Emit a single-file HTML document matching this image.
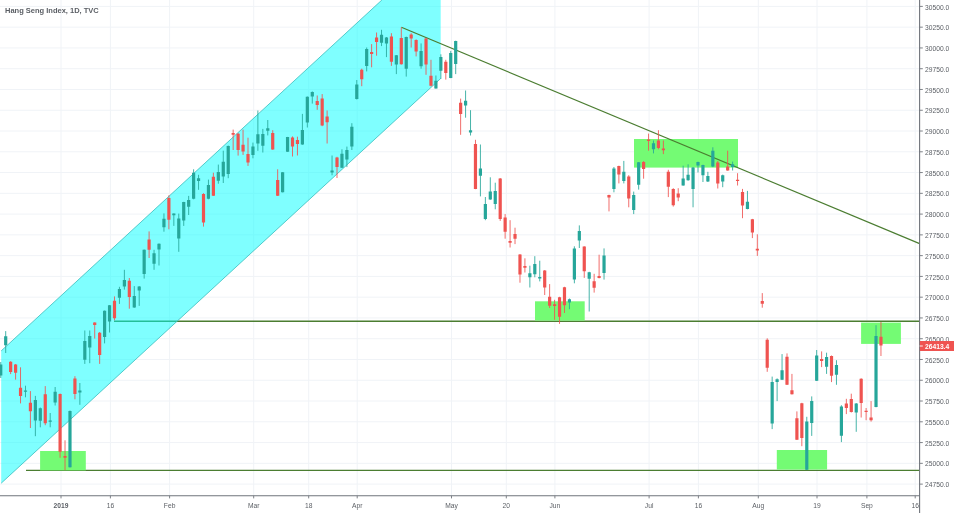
<!DOCTYPE html>
<html><head><meta charset="utf-8"><title>Hang Seng Index</title>
<style>html,body{margin:0;padding:0;background:#fff;overflow:hidden}body{width:954px;height:513px;font-family:"Liberation Sans",sans-serif}</style></head>
<body>
<svg width="954" height="513" viewBox="0 0 954 513" style="display:block;will-change:transform;font-family:'Liberation Sans',sans-serif">
<rect width="954" height="513" fill="#fff"/>
<path d="M61.0 0V495.8M110.4 0V495.8M169.6 0V495.8M253.7 0V495.8M308.7 0V495.8M357.2 0V495.8M451.5 0V495.8M506.3 0V495.8M554.9 0V495.8M649.1 0V495.8M698.4 0V495.8M758.3 0V495.8M817.0 0V495.8M866.9 0V495.8M915.2 0V495.8M0 6.40H919.6M0 27.17H919.6M0 47.94H919.6M0 68.71H919.6M0 89.48H919.6M0 110.25H919.6M0 131.02H919.6M0 151.79H919.6M0 172.56H919.6M0 193.33H919.6M0 214.10H919.6M0 234.87H919.6M0 255.64H919.6M0 276.41H919.6M0 297.18H919.6M0 317.95H919.6M0 338.72H919.6M0 359.49H919.6M0 380.26H919.6M0 401.03H919.6M0 421.80H919.6M0 442.57H919.6M0 463.34H919.6M0 484.11H919.6" stroke="#f0f3f7" stroke-width="1" fill="none"/>
<clipPath id="c"><rect x="0" y="0" width="919.6" height="495.8"/></clipPath>
<g clip-path="url(#c)">
<path d="M114 321.2H919.6M26 470.4H919.6" stroke="#4b7d31" stroke-width="1.4" fill="none"/>
<rect x="40.1" y="451" width="45.7" height="19.4" fill="#74fb74"/>
<rect x="535" y="301.3" width="49.7" height="19.3" fill="#74fb74"/>
<rect x="634" y="139" width="104.0" height="28.6" fill="#74fb74"/>
<rect x="776.8" y="450" width="50.3" height="19.6" fill="#74fb74"/>
<rect x="861.1" y="322.6" width="39.8" height="21.3" fill="#74fb74"/>
<path d="M1.2 350.9L381.9 0H440.7V78.5L1.2 483.2Z" fill="rgba(0,255,255,0.5)"/>
<path d="M1.2 350.9L381.9 0M440.7 78.5L1.2 483.2" stroke="#45c4c4" stroke-width="0.9" fill="none"/>
<path d="M401.4 27.3L919.6 243.6" stroke="#4b7d31" stroke-width="1.15" fill="none"/>
<path d="M10.64 361.2V374.1M15.59 364.0V379.6M20.53 367.3V403.4M30.42 391.1V428.0M45.26 386.1V425.2M60.09 393.5V457.8M65.03 440.3V470.2M74.93 376.2V399.3M94.71 322.3V338.6M99.65 332.0V363.9M114.49 296.4V320.3M129.32 278.0V308.7M149.10 231.4V258.0M168.88 195.3V229.3M203.50 193.2V226.6M213.39 172.7V195.9M233.17 129.6V150.0M238.11 133.0V155.6M243.06 129.6V154.9M248.00 137.7V165.9M272.73 130.2V149.8M277.67 169.3V196.0M292.50 136.4V156.5M297.45 136.7V155.5M317.23 95.5V109.8M322.18 94.1V126.2M327.12 110.5V143.5M337.01 156.8V178.0M361.74 68.7V86.2M371.62 44.1V67.3M376.57 32.5V55.7M391.41 33.2V65.9M401.30 27.3V64.6M411.19 33.2V47.5M416.13 39.3V56.4M426.02 38.0V74.8M430.97 59.8V86.4M445.80 59.8V79.6M460.64 98.6V134.8M475.47 139.8V189.2M500.20 178.0V220.9M505.14 214.1V238.7M510.09 220.2V247.5M515.03 227.7V244.1M519.98 254.1V282.7M524.92 258.3V272.5M544.70 270.0V295.0M549.64 284.1V308.0M554.59 299.8V319.8M559.54 296.8V323.9M564.48 286.8V313.0M584.26 246.3V277.9M594.15 273.8V292.6M599.10 254.7V278.4M608.99 194.7V211.4M618.88 165.7V183.4M628.76 175.2V207.3M643.60 161.0V178.7M648.55 133.6V150.7M658.44 130.2V149.3M663.38 140.5V154.1M668.33 169.8V197.1M673.27 188.2V206.6M678.22 188.2V201.2M717.78 161.0V188.5M727.67 150.7V170.7M737.56 173.2V185.5M742.50 188.9V218.2M752.39 218.9V238.1M757.34 234.3V255.9M762.28 293.1V307.7M767.23 338.3V371.8M787.00 353.4V385.0M791.95 373.9V394.5M796.90 411.4V440.0M801.84 402.8V446.2M821.62 351.4V367.1M831.51 355.5V382.1M846.35 398.8V414.1M851.29 393.7V412.5M861.18 378.3V417.5M866.12 408.0V420.2M871.07 401.1V421.6M880.96 322.0V356.0" stroke="#ef5350" stroke-width="0.85" fill="none"/>
<path d="M9.04 361.8h3.2v10.3h-3.2zM13.99 364.6h3.2v8.1h-3.2zM18.93 387.7h3.2v8.2h-3.2zM28.82 402.7h3.2v8.5h-3.2zM43.66 394.3h3.2v28.9h-3.2zM58.49 394.1h3.2v57.6h-3.2zM63.43 456.0h3.2v1.8h-3.2zM73.33 378.5h3.2v15.4h-3.2zM93.11 322.6h3.2v2.4h-3.2zM98.05 332.8h3.2v22.2h-3.2zM112.89 300.7h3.2v17.5h-3.2zM127.72 280.7h3.2v16.4h-3.2zM147.50 239.6h3.2v10.2h-3.2zM167.28 198.0h3.2v21.8h-3.2zM201.90 193.9h3.2v28.6h-3.2zM211.79 176.8h3.2v18.9h-3.2zM231.57 133.0h3.2v1.7h-3.2zM236.51 133.7h3.2v16.4h-3.2zM241.46 144.7h3.2v6.8h-3.2zM246.40 153.9h3.2v8.6h-3.2zM271.12 133.0h3.2v16.5h-3.2zM276.07 180.0h3.2v15.7h-3.2zM290.90 137.5h3.2v9.1h-3.2zM295.85 140.0h3.2v3.9h-3.2zM315.63 100.9h3.2v4.1h-3.2zM320.57 98.5h3.2v27.0h-3.2zM325.52 116.6h3.2v5.7h-3.2zM335.41 157.5h3.2v9.6h-3.2zM360.13 69.8h3.2v9.5h-3.2zM370.02 52.0h3.2v1.9h-3.2zM374.97 37.6h3.2v4.5h-3.2zM389.81 36.6h3.2v25.2h-3.2zM399.69 38.0h3.2v26.3h-3.2zM409.58 34.5h3.2v4.1h-3.2zM414.53 40.0h3.2v11.6h-3.2zM424.42 38.4h3.2v26.2h-3.2zM429.37 75.8h3.2v9.9h-3.2zM444.20 61.8h3.2v11.2h-3.2zM459.04 102.7h3.2v11.2h-3.2zM473.87 143.9h3.2v45.0h-3.2zM498.60 178.4h3.2v40.5h-3.2zM503.54 217.5h3.2v14.3h-3.2zM508.49 241.1h3.2v1.6h-3.2zM513.43 233.9h3.2v4.8h-3.2zM518.38 254.6h3.2v20.0h-3.2zM523.32 266.1h3.2v1.6h-3.2zM543.10 270.5h3.2v17.0h-3.2zM548.04 296.7h3.2v9.0h-3.2zM552.99 304.2h3.2v1.8h-3.2zM557.94 297.2h3.2v19.6h-3.2zM562.88 287.2h3.2v18.0h-3.2zM582.66 246.6h3.2v24.6h-3.2zM592.55 281.3h3.2v6.5h-3.2zM597.50 276.0h3.2v2.0h-3.2zM607.38 195.0h3.2v2.5h-3.2zM617.27 166.1h3.2v8.5h-3.2zM627.16 176.6h3.2v21.8h-3.2zM642.00 162.0h3.2v7.1h-3.2zM646.95 139.4h3.2v1.7h-3.2zM656.84 140.5h3.2v7.5h-3.2zM661.78 148.4h3.2v1.9h-3.2zM666.73 171.7h3.2v15.0h-3.2zM671.67 188.9h3.2v16.4h-3.2zM676.62 193.4h3.2v4.1h-3.2zM716.18 162.6h3.2v20.8h-3.2zM726.07 166.4h3.2v4.1h-3.2zM735.96 179.8h3.2v1.3h-3.2zM740.90 192.0h3.2v13.6h-3.2zM750.79 219.3h3.2v13.2h-3.2zM755.74 248.8h3.2v1.7h-3.2zM760.68 301.1h3.2v2.7h-3.2zM765.62 339.7h3.2v28.0h-3.2zM785.40 356.8h3.2v28.0h-3.2zM790.35 390.3h3.2v4.0h-3.2zM795.30 418.2h3.2v21.5h-3.2zM800.24 403.2h3.2v34.8h-3.2zM820.02 358.9h3.2v2.0h-3.2zM829.91 356.1h3.2v19.6h-3.2zM844.75 403.4h3.2v4.6h-3.2zM849.69 399.1h3.2v13.0h-3.2zM859.58 378.7h3.2v24.2h-3.2zM864.52 410.7h3.2v1.2h-3.2zM869.47 417.5h3.2v2.7h-3.2zM879.36 336.7h3.2v8.8h-3.2z" fill="#ef5350"/>
<path d="M0.75 362.0V378.0M5.70 331.1V353.0M25.48 385.7V397.3M35.37 395.9V436.2M40.31 407.5V427.3M50.20 413.0V427.3M55.15 387.0V405.5M69.98 410.5V467.5M79.87 383.0V404.8M84.81 330.5V363.9M89.76 330.5V363.2M104.59 310.5V343.4M109.54 305.0V332.5M119.43 286.8V303.9M124.38 269.8V289.6M134.27 286.1V307.8M139.21 286.1V305.9M144.16 249.5V278.6M154.05 249.8V269.8M158.99 243.4V265.5M163.94 213.4V231.7M173.83 213.4V225.9M178.77 213.6V251.8M183.72 201.8V225.9M188.66 195.9V215.0M193.61 169.3V199.3M198.55 174.8V189.8M208.44 179.6V199.3M218.33 164.6V183.7M223.28 150.7V183.0M228.22 145.5V178.2M252.95 142.6V158.3M257.89 110.5V150.8M262.84 128.9V152.5M267.78 120.0V135.4M282.62 172.0V192.4M287.56 136.9V151.9M302.40 113.9V144.8M307.34 96.5V127.5M312.29 91.4V103.6M332.06 155.5V175.3M341.96 149.3V168.0M346.90 146.6V167.1M351.85 123.2V150.0M356.79 80.0V99.5M366.68 47.5V71.4M381.52 29.8V46.1M386.46 37.0V57.1M396.35 55.0V74.1M406.24 36.6V76.6M421.08 43.4V68.7M435.91 75.5V88.6M440.86 54.3V78.9M450.75 50.9V78.2M455.69 40.7V74.1M465.58 90.5V117.7M470.53 110.2V135.5M480.42 144.5V196.4M485.36 197.0V220.2M490.31 177.3V199.8M495.25 182.7V209.3M529.87 265.7V287.5M534.81 256.2V277.3M539.75 260.7V281.4M569.43 298.5V309.2M574.37 246.3V283.3M579.32 225.4V248.0M589.21 271.8V311.5M604.04 248.4V279.6M613.93 167.0V192.3M623.82 160.9V183.4M633.71 191.6V214.1M638.66 162.0V189.6M653.49 140.5V153.4M683.16 165.7V185.7M688.11 164.3V180.7M693.05 167.0V207.3M698.00 161.6V172.5M702.94 164.7V182.0M707.88 171.8V182.0M712.83 147.3V167.1M722.72 174.6V187.2M732.61 161.6V170.5M747.45 190.9V209.3M772.17 376.6V429.1M777.12 378.4V401.1M782.06 354.1V380.0M806.79 416.8V470.0M811.73 396.4V435.9M816.68 350.0V381.0M826.57 352.7V373.9M836.46 360.2V384.8M841.40 405.2V442.1M856.24 403.0V431.8M876.02 325.2V407.3" stroke="#26a69a" stroke-width="0.85" fill="none"/>
<path d="M-0.85 364.6h3.2v10.9h-3.2zM4.10 336.2h3.2v9.0h-3.2zM23.88 390.5h3.2v1.3h-3.2zM33.77 400.0h3.2v20.5h-3.2zM38.71 408.2h3.2v12.5h-3.2zM48.60 420.5h3.2v1.3h-3.2zM53.55 391.8h3.2v10.7h-3.2zM68.38 411.0h3.2v56.2h-3.2zM78.27 390.5h3.2v2.0h-3.2zM83.22 341.1h3.2v18.7h-3.2zM88.16 335.9h3.2v11.6h-3.2zM103.00 310.7h3.2v26.3h-3.2zM107.94 305.2h3.2v16.4h-3.2zM117.83 288.9h3.2v8.8h-3.2zM122.78 280.0h3.2v6.6h-3.2zM132.67 296.1h3.2v11.5h-3.2zM137.61 286.6h3.2v4.0h-3.2zM142.56 249.8h3.2v24.1h-3.2zM152.45 253.2h3.2v10.6h-3.2zM157.39 243.7h3.2v5.7h-3.2zM162.34 218.8h3.2v8.5h-3.2zM172.23 213.6h3.2v1.7h-3.2zM177.17 218.4h3.2v20.1h-3.2zM182.12 202.1h3.2v18.4h-3.2zM187.06 200.0h3.2v6.8h-3.2zM192.01 172.7h3.2v26.0h-3.2zM196.95 178.2h3.2v2.7h-3.2zM206.84 185.0h3.2v13.7h-3.2zM216.73 172.1h3.2v8.6h-3.2zM221.68 161.8h3.2v14.8h-3.2zM226.62 146.0h3.2v28.1h-3.2zM251.35 146.6h3.2v8.3h-3.2zM256.29 134.3h3.2v9.2h-3.2zM261.24 133.9h3.2v11.8h-3.2zM266.18 128.2h3.2v2.5h-3.2zM281.01 172.2h3.2v20.0h-3.2zM285.96 137.1h3.2v14.6h-3.2zM300.80 130.0h3.2v14.6h-3.2zM305.74 96.8h3.2v25.6h-3.2zM310.69 92.0h3.2v4.5h-3.2zM330.46 170.5h3.2v2.0h-3.2zM340.36 153.8h3.2v14.0h-3.2zM345.30 150.0h3.2v9.6h-3.2zM350.25 126.8h3.2v19.8h-3.2zM355.19 84.6h3.2v14.4h-3.2zM365.08 48.9h3.2v17.0h-3.2zM379.92 34.8h3.2v7.9h-3.2zM384.86 37.6h3.2v5.8h-3.2zM394.75 55.3h3.2v9.3h-3.2zM404.64 37.0h3.2v31.7h-3.2zM419.48 50.9h3.2v15.3h-3.2zM434.31 80.7h3.2v7.7h-3.2zM439.25 57.1h3.2v13.6h-3.2zM449.14 53.0h3.2v24.9h-3.2zM454.09 41.1h3.2v22.8h-3.2zM463.98 100.7h3.2v4.8h-3.2zM468.93 130.3h3.2v2.2h-3.2zM478.81 168.4h3.2v7.3h-3.2zM483.76 203.9h3.2v15.0h-3.2zM488.70 191.6h3.2v8.0h-3.2zM493.65 190.9h3.2v13.0h-3.2zM528.26 273.2h3.2v4.1h-3.2zM533.21 264.1h3.2v10.2h-3.2zM538.15 277.0h3.2v1.4h-3.2zM567.83 299.2h3.2v3.2h-3.2zM572.77 248.5h3.2v31.0h-3.2zM577.72 231.0h3.2v9.6h-3.2zM587.61 272.2h3.2v6.5h-3.2zM602.44 255.6h3.2v17.4h-3.2zM612.33 168.4h3.2v20.5h-3.2zM622.22 171.8h3.2v9.3h-3.2zM632.11 195.0h3.2v15.0h-3.2zM637.06 162.3h3.2v22.5h-3.2zM651.89 143.2h3.2v6.1h-3.2zM681.56 178.4h3.2v7.1h-3.2zM686.50 174.7h3.2v5.6h-3.2zM691.45 167.6h3.2v21.3h-3.2zM696.39 162.0h3.2v3.5h-3.2zM701.34 165.0h3.2v10.2h-3.2zM706.28 175.9h3.2v5.6h-3.2zM711.23 150.7h3.2v15.7h-3.2zM721.12 175.2h3.2v6.3h-3.2zM731.01 164.3h3.2v2.7h-3.2zM745.85 201.8h3.2v7.1h-3.2zM770.57 382.1h3.2v41.5h-3.2zM775.51 379.3h3.2v2.8h-3.2zM780.46 370.2h3.2v9.5h-3.2zM805.19 421.5h3.2v48.3h-3.2zM810.13 401.1h3.2v21.9h-3.2zM815.08 355.5h3.2v25.2h-3.2zM824.97 357.1h3.2v9.6h-3.2zM834.86 365.0h3.2v9.8h-3.2zM839.80 406.6h3.2v29.1h-3.2zM854.63 403.4h3.2v9.1h-3.2zM874.42 336.0h3.2v71.0h-3.2z" fill="#26a69a"/>
</g>
<g opacity="0.999">
<path d="M919.6 0V513M0 495.8H919.6" stroke="#70757c" stroke-width="1.1" fill="none"/>
<text x="925" y="9.50" font-size="6.7" fill="#5a5e64">30500.0</text>
<text x="925" y="30.27" font-size="6.7" fill="#5a5e64">30250.0</text>
<text x="925" y="51.04" font-size="6.7" fill="#5a5e64">30000.0</text>
<text x="925" y="71.81" font-size="6.7" fill="#5a5e64">29750.0</text>
<text x="925" y="92.58" font-size="6.7" fill="#5a5e64">29500.0</text>
<text x="925" y="113.35" font-size="6.7" fill="#5a5e64">29250.0</text>
<text x="925" y="134.12" font-size="6.7" fill="#5a5e64">29000.0</text>
<text x="925" y="154.89" font-size="6.7" fill="#5a5e64">28750.0</text>
<text x="925" y="175.66" font-size="6.7" fill="#5a5e64">28500.0</text>
<text x="925" y="196.43" font-size="6.7" fill="#5a5e64">28250.0</text>
<text x="925" y="217.20" font-size="6.7" fill="#5a5e64">28000.0</text>
<text x="925" y="237.97" font-size="6.7" fill="#5a5e64">27750.0</text>
<text x="925" y="258.74" font-size="6.7" fill="#5a5e64">27500.0</text>
<text x="925" y="279.51" font-size="6.7" fill="#5a5e64">27250.0</text>
<text x="925" y="300.28" font-size="6.7" fill="#5a5e64">27000.0</text>
<text x="925" y="321.05" font-size="6.7" fill="#5a5e64">26750.0</text>
<text x="925" y="341.82" font-size="6.7" fill="#5a5e64">26500.0</text>
<text x="925" y="362.59" font-size="6.7" fill="#5a5e64">26250.0</text>
<text x="925" y="383.36" font-size="6.7" fill="#5a5e64">26000.0</text>
<text x="925" y="404.13" font-size="6.7" fill="#5a5e64">25750.0</text>
<text x="925" y="424.90" font-size="6.7" fill="#5a5e64">25500.0</text>
<text x="925" y="445.67" font-size="6.7" fill="#5a5e64">25250.0</text>
<text x="925" y="466.44" font-size="6.7" fill="#5a5e64">25000.0</text>
<text x="925" y="487.21" font-size="6.7" fill="#5a5e64">24750.0</text>
<text x="61.0" y="508.4" font-size="6.7" text-anchor="middle" fill="#5a5e64" font-weight="bold">2019</text>
<text x="110.4" y="508.4" font-size="6.7" text-anchor="middle" fill="#5a5e64">16</text>
<text x="169.6" y="508.4" font-size="6.7" text-anchor="middle" fill="#5a5e64">Feb</text>
<text x="253.7" y="508.4" font-size="6.7" text-anchor="middle" fill="#5a5e64">Mar</text>
<text x="308.7" y="508.4" font-size="6.7" text-anchor="middle" fill="#5a5e64">18</text>
<text x="357.2" y="508.4" font-size="6.7" text-anchor="middle" fill="#5a5e64">Apr</text>
<text x="451.5" y="508.4" font-size="6.7" text-anchor="middle" fill="#5a5e64">May</text>
<text x="506.3" y="508.4" font-size="6.7" text-anchor="middle" fill="#5a5e64">20</text>
<text x="554.9" y="508.4" font-size="6.7" text-anchor="middle" fill="#5a5e64">Jun</text>
<text x="649.1" y="508.4" font-size="6.7" text-anchor="middle" fill="#5a5e64">Jul</text>
<text x="698.4" y="508.4" font-size="6.7" text-anchor="middle" fill="#5a5e64">16</text>
<text x="758.3" y="508.4" font-size="6.7" text-anchor="middle" fill="#5a5e64">Aug</text>
<text x="817.0" y="508.4" font-size="6.7" text-anchor="middle" fill="#5a5e64">19</text>
<text x="866.9" y="508.4" font-size="6.7" text-anchor="middle" fill="#5a5e64">Sep</text>
<clipPath id="c2"><rect x="0" y="497" width="919.0" height="16"/></clipPath>
<text clip-path="url(#c2)" x="915.2" y="508.4" font-size="6.7" text-anchor="middle" fill="#5a5e64">16</text>
<path d="M919.6 6.40h3.2M919.6 27.17h3.2M919.6 47.94h3.2M919.6 68.71h3.2M919.6 89.48h3.2M919.6 110.25h3.2M919.6 131.02h3.2M919.6 151.79h3.2M919.6 172.56h3.2M919.6 193.33h3.2M919.6 214.10h3.2M919.6 234.87h3.2M919.6 255.64h3.2M919.6 276.41h3.2M919.6 297.18h3.2M919.6 317.95h3.2M919.6 338.72h3.2M919.6 359.49h3.2M919.6 380.26h3.2M919.6 401.03h3.2M919.6 421.80h3.2M919.6 442.57h3.2M919.6 463.34h3.2M919.6 484.11h3.2M61.0 495.8v2.6M110.4 495.8v2.6M169.6 495.8v2.6M253.7 495.8v2.6M308.7 495.8v2.6M357.2 495.8v2.6M451.5 495.8v2.6M506.3 495.8v2.6M554.9 495.8v2.6M649.1 495.8v2.6M698.4 495.8v2.6M758.3 495.8v2.6M817.0 495.8v2.6M866.9 495.8v2.6M915.2 495.8v2.6" stroke="#70757c" stroke-width="0.9" fill="none"/>
<rect x="919.9" y="341" width="34.4" height="10" fill="#ef5350"/>
<path d="M919.6 346h3.2" stroke="#fff" stroke-width="0.9"/>
<text x="925" y="348.6" font-size="6.7" font-weight="bold" fill="#fff">26413.4</text>
<text x="5" y="13" font-size="7.5" font-weight="bold" fill="#5a5e64">Hang Seng Index, 1D, TVC</text>
</g>
</svg>
</body></html>
